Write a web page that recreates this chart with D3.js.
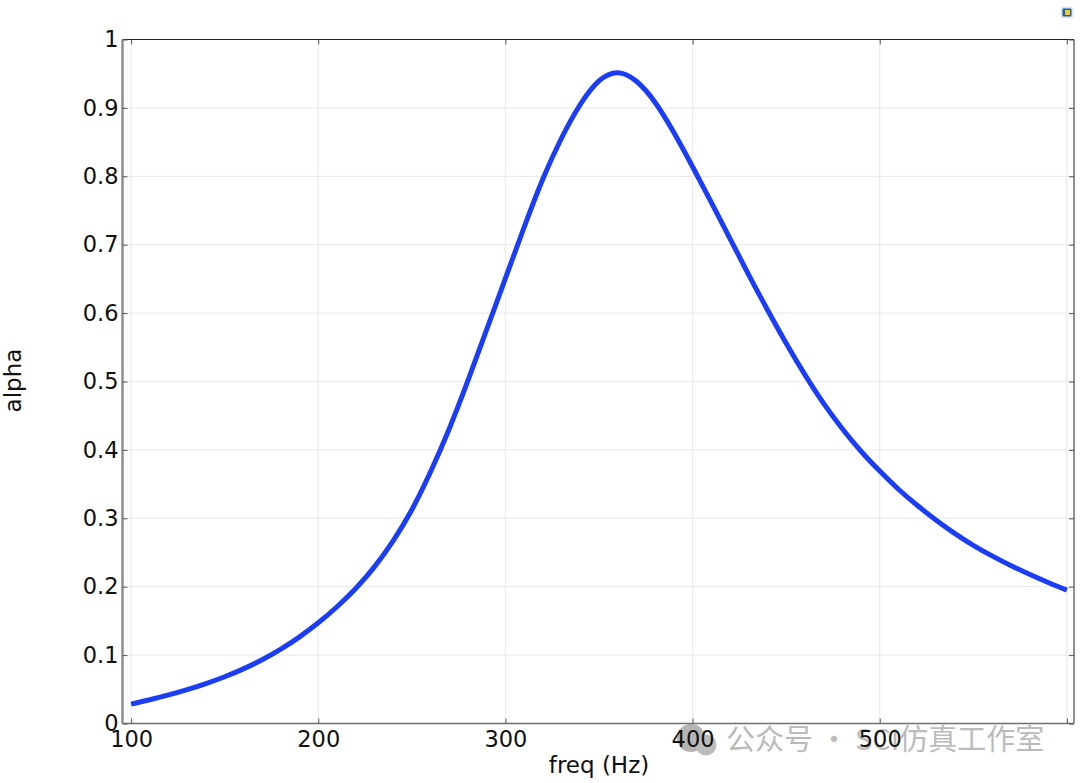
<!DOCTYPE html>
<html><head><meta charset="utf-8">
<script src="https://cdn.jsdelivr.net/npm/d3@7/dist/d3.min.js"></script>
<style>html,body{margin:0;padding:0;background:#fff}svg{display:block}text{font-family:"DejaVu Sans",sans-serif}</style>
</head><body><svg id="c" width="1080" height="783"></svg>
<script>
const freq=[100,110,120,130,140,150,160,170,180,190,200,210,220,230,240,250,260,270,280,290,300,310,320,330,340,350,360,370,380,390,400,410,420,430,440,450,460,470,480,490,500,510,520,530,540,550,560,570,580,590,600];
const alpha=[.0283,.0347,.0418,.0496,.0584,.0684,.0799,.0932,.1087,.1267,.1472,.1707,.1975,.2290,.2670,.3125,.3680,.4310,.5015,.5760,.6508,.7255,.7960,.8560,.9050,.9395,.9515,.9390,.9080,.8640,.8140,.7620,.7090,.6560,.6050,.5560,.5100,.4680,.4310,.3980,.3690,.3425,.3190,.2975,.2780,.2605,.2450,.2310,.2182,.2062,.1950];
const xTicks=[100,200,300,400,500,600];
const xLabels=["100","200","300","400","500",""];
const yTicks=[0,.1,.2,.3,.4,.5,.6,.7,.8,.9,1];
const yLabels=["0","0.1","0.2","0.3","0.4","0.5","0.6","0.7","0.8","0.9","1"];
const xTitle="freq (Hz)", yTitle="alpha", watermark="公众号 · SCI仿真工作室";

const L=122.5,R=1074,T=39.5,B=723.5;
const svg=d3.select("#c");
const x=d3.scaleLinear().domain([95.4,603.8]).range([L,R]);
const y=d3.scaleLinear().domain([0,1]).range([B,T]);

// gridlines
const grid=svg.append("g").attr("stroke","#ebebeb").attr("stroke-width",1.2);
grid.selectAll(".gx").data(xTicks).join("line").attr("x1",d=>x(d)).attr("x2",d=>x(d)).attr("y1",T).attr("y2",B);
grid.selectAll(".gy").data(yTicks.slice(1,-1)).join("line").attr("x1",L).attr("x2",R).attr("y1",d=>y(d)).attr("y2",d=>y(d));

// watermark
const wm=svg.append("g");
wm.append("circle").attr("cx",691).attr("cy",738).attr("r",14).attr("fill","#b4b4b4");
wm.append("circle").attr("cx",706).attr("cy",745).attr("r",10.5).attr("fill","#bcbcbc");
wm.append("text").attr("x",726).attr("y",750).attr("font-size",29).attr("fill","#bbbbbb")
  .style("font-family",'"Noto Sans CJK SC",sans-serif').text(watermark);

// curve
svg.append("path").datum(freq.map((f,i)=>[f,alpha[i]]))
  .attr("fill","none").attr("stroke","#1a3df5").attr("stroke-width",5)
  .attr("d",d3.line().x(d=>x(d[0])).y(d=>y(d[1])).curve(d3.curveNatural));

// frame
svg.append("line").attr("x1",L).attr("x2",R).attr("y1",T).attr("y2",T).attr("stroke","#222").attr("stroke-width",1);
svg.append("line").attr("x1",R).attr("x2",R).attr("y1",T).attr("y2",B).attr("stroke","#222").attr("stroke-width",1);

// axes
const ax=svg.append("g").attr("transform",`translate(0,${B})`)
  .call(d3.axisBottom(x).tickValues(xTicks).tickFormat((d,i)=>xLabels[i]).tickSize(-5).tickPadding(13));
ax.select(".domain").attr("stroke","#707070").attr("stroke-width",1.6).attr("d",`M${L},0H${R}`);
ax.selectAll(".tick line").attr("stroke","#555");
ax.selectAll("text").attr("font-size",22.5).attr("fill","#111").attr("dy","0.71em").attr("y",8);
const at=svg.append("g").attr("transform",`translate(0,${T})`)
  .call(d3.axisTop(x).tickValues(xTicks).tickFormat("").tickSize(-5));
at.select(".domain").remove(); at.selectAll(".tick line").attr("stroke","#555");

const ay=svg.append("g").attr("transform",`translate(${L},0)`)
  .call(d3.axisLeft(y).tickValues(yTicks).tickFormat((d,i)=>yLabels[i]).tickSize(-5).tickPadding(4));
ay.select(".domain").attr("stroke","#8a8a8a").attr("stroke-width",2.4).attr("d",`M0,${T}V${B}`);
ay.selectAll(".tick line").attr("stroke","#555");
ay.selectAll("text").attr("font-size",22.5).attr("fill","#111");
const ar=svg.append("g").attr("transform",`translate(${R},0)`)
  .call(d3.axisRight(y).tickValues(yTicks).tickFormat("").tickSize(-5));
ar.select(".domain").remove(); ar.selectAll(".tick line").attr("stroke","#555");

// titles
svg.append("text").attr("x",599).attr("y",773).attr("text-anchor","middle").attr("font-size",23).attr("fill","#111").text(xTitle);
svg.append("text").attr("transform","translate(21,380.5) rotate(-90)").attr("text-anchor","middle").attr("font-size",23).attr("fill","#111").text(yTitle);

// small toolbar icon top right
const ic=svg.append("g");
ic.append("rect").attr("x",1060.5).attr("y",6.5).attr("width",13).attr("height",12).attr("rx",3).attr("fill","#e2e6ea");
ic.append("rect").attr("x",1062.5).attr("y",8.5).attr("width",9).attr("height",8).attr("rx",1).attr("fill","#1f5fa8");
ic.append("rect").attr("x",1065).attr("y",10).attr("width",5).attr("height",5).attr("fill","#e6cf3a");
</script></body></html>
